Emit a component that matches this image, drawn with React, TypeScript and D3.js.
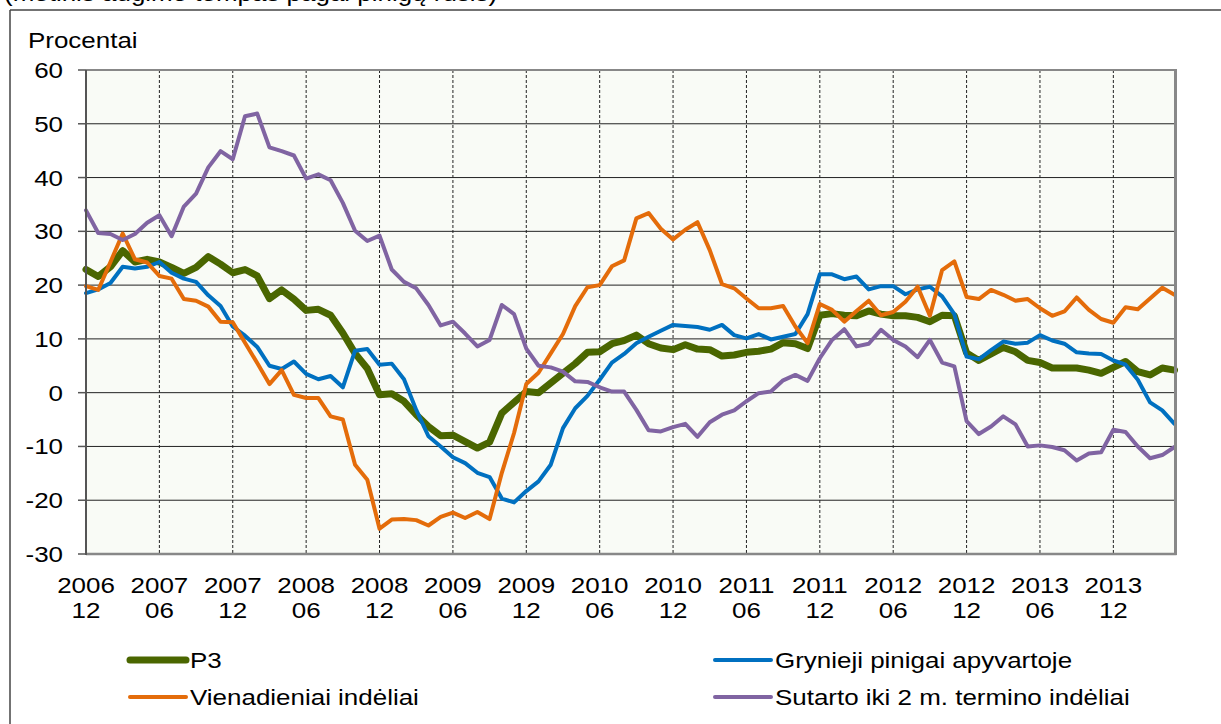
import React from "react";
import * as d3 from "d3";

// monthly observations, 2006-12 .. 2014-05
const months = d3.timeMonth.range(new Date(2006, 11, 1), new Date(2014, 6, 1)).slice(0, 90);

const p3 = [
  22.9, 21.6, 23.4, 26.4, 24.3, 24.8, 24.3, 23.3, 22.2, 23.3, 25.3, 23.9, 22.3, 22.9, 21.7, 17.5, 19.1, 17.4,
  15.3, 15.5, 14.4, 11.1, 7.3, 4.5, -0.4, -0.2, -1.6, -4.1, -6.3, -8.0, -7.9, -9.1, -10.3, -9.2, -3.8, -1.8,
  0.2, 0.0, 1.8, 3.6, 5.4, 7.5, 7.6, 9.1, 9.7, 10.7, 9.1, 8.3, 8.0, 8.9, 8.1, 8.0, 6.8, 7.0,
  7.5, 7.7, 8.1, 9.3, 9.1, 8.2, 14.4, 14.7, 14.4, 14.3, 15.2, 14.6, 14.3, 14.3, 14.0, 13.2, 14.4, 14.3,
  7.4, 6.0, 7.2, 8.4, 7.6, 6.0, 5.6, 4.6, 4.6, 4.6, 4.2, 3.6, 4.7, 5.8, 3.9, 3.3, 4.6, 4.2,
];

const grynieji = [
  18.5, 19.2, 20.4, 23.4, 23.1, 23.4, 24.3, 22.3, 21.2, 20.6, 18.1, 16.1, 12.3, 10.6, 8.5, 5.0, 4.4, 5.8,
  3.5, 2.5, 3.1, 1.0, 7.8, 8.1, 5.2, 5.4, 2.5, -3.2, -8.1, -10.0, -12.0, -13.1, -14.9, -15.7, -19.7, -20.4,
  -18.3, -16.5, -13.4, -6.6, -2.9, -0.6, 2.4, 5.6, 7.2, 9.2, 10.4, 11.5, 12.6, 12.4, 12.2, 11.7, 12.6, 10.7,
  10.1, 10.9, 9.9, 10.4, 10.9, 14.6, 22.0, 22.0, 21.1, 21.6, 19.2, 19.8, 19.8, 18.3, 19.2, 19.7, 17.9, 14.6,
  6.7, 6.2, 7.9, 9.5, 9.1, 9.3, 10.7, 9.7, 9.1, 7.5, 7.3, 7.2, 6.0, 5.2, 2.4, -1.8, -3.3, -5.8,
];

const vienadieniai = [
  19.8, 19.1, 24.3, 29.6, 24.8, 24.2, 21.7, 21.2, 17.4, 17.1, 16.0, 13.2, 13.1, 9.3, 5.5, 1.6, 4.2, -0.4,
  -1.0, -1.0, -4.4, -5.0, -13.4, -16.2, -25.3, -23.6, -23.5, -23.7, -24.7, -23.1, -22.3, -23.3, -22.2, -23.5, -14.9, -7.5,
  1.6, 3.7, 7.3, 10.9, 16.1, 19.6, 20.0, 23.5, 24.6, 32.4, 33.4, 30.5, 28.5, 30.3, 31.7, 26.5, 20.2, 19.4,
  17.5, 15.7, 15.7, 16.1, 12.3, 9.2, 16.5, 15.4, 13.2, 15.2, 17.1, 14.4, 15.0, 16.9, 19.7, 14.3, 22.8, 24.4,
  17.8, 17.4, 19.1, 18.2, 17.1, 17.4, 15.7, 14.3, 15.1, 17.7, 15.4, 13.7, 13.0, 15.9, 15.5, 17.5, 19.5, 18.2,
];

const sutarto = [
  33.9, 29.7, 29.5, 28.4, 29.5, 31.6, 33.0, 29.1, 34.6, 37.0, 41.9, 44.9, 43.4, 51.4, 51.9, 45.6, 44.9, 44.1,
  39.8, 40.6, 39.5, 35.3, 30.1, 28.2, 29.2, 22.9, 20.6, 19.4, 16.3, 12.5, 13.2, 11.0, 8.6, 9.8, 16.3, 14.6,
  8.2, 5.0, 4.7, 3.9, 2.1, 2.0, 1.0, 0.2, 0.2, -3.2, -7.0, -7.2, -6.4, -5.8, -8.2, -5.5, -4.1, -3.3,
  -1.6, -0.1, 0.2, 2.3, 3.3, 2.2, 6.4, 9.8, 11.8, 8.6, 9.1, 11.7, 9.8, 8.6, 6.6, 9.8, 5.6, 4.9,
  -5.3, -7.7, -6.3, -4.4, -5.9, -10.0, -9.8, -10.1, -10.7, -12.6, -11.3, -11.1, -6.9, -7.3, -10.0, -12.2, -11.6, -10.1,
];

const yTicks = [-30, -20, -10, 0, 10, 20, 30, 40, 50, 60];

const series = [
  { name: "P3", values: p3, color: "#4a6600", width: 7 },
  { name: "Grynieji pinigai apyvartoje", values: grynieji, color: "#0070c0", width: 4 },
  { name: "Vienadieniai indėliai", values: vienadieniai, color: "#e46c0a", width: 4 },
  { name: "Sutarto iki 2 m. termino indėliai", values: sutarto, color: "#8064a2", width: 4 },
];

const W = 1221;
const H = 724;
const left = 86;
const right = 1174.5;
const top = 70;
const bottom = 554;
const SX = 1.18;
const FONT = "'Liberation Sans', Arial, sans-serif";

const Label = ({ x, y, anchor = "start", children }: any) => (
  <text transform={`translate(${x},${y}) scale(${SX},1)`} textAnchor={anchor}>
    {children}
  </text>
);

export default function App() {
  const x = d3.scaleLinear().domain([0, months.length - 1]).range([left, right]);
  const y = d3.scaleLinear().domain([-30, 60]).range([bottom, top]);

  const line = d3
    .line<number>()
    .x((_, i) => x(i))
    .y((d) => y(d));

  const xTickIdx = d3.range(0, months.length, 6);
  const fmtY = d3.timeFormat("%Y");
  const fmtM = d3.timeFormat("%m");

  const legend = [
    { s: series[0], lx: 130, ly: 660 },
    { s: series[1], lx: 715, ly: 660 },
    { s: series[2], lx: 130, ly: 697 },
    { s: series[3], lx: 715, ly: 697 },
  ];

  return (
    <svg
      width={W}
      height={H}
      style={{ position: "absolute", left: 0, top: 0, background: "#fff" }}
      fontFamily={FONT}
      fontSize={22}
    >
      {/* caption of the slide, cut by the top edge as in the source */}
      <Label x={4} y={1}>(metinis augimo tempas pagal pinigų rūšis)</Label>

      {/* outer frame */}
      <line x1={10} x2={W} y1={10} y2={10} stroke="#444" strokeWidth={1.5} />
      <line x1={10} x2={10} y1={10} y2={H} stroke="#444" strokeWidth={1.5} />

      <Label x={28} y={48}>Procentai</Label>

      <rect x={left} y={top} width={right - left} height={bottom - top} fill="#f9fbf6" />

      {xTickIdx.slice(1).map((i) => (
        <line key={i} x1={x(i)} x2={x(i)} y1={top} y2={bottom} stroke="#222" strokeWidth={1} strokeDasharray="3,2" />
      ))}

      {yTicks.map((t) => (
        <g key={t}>
          {t > -30 && t < 60 && (
            <line x1={left} x2={right} y1={y(t)} y2={y(t)} stroke="#222" strokeWidth={1} />
          )}
          <line x1={78} x2={left} y1={y(t)} y2={y(t)} stroke="#555" strokeWidth={1.5} />
          <Label x={63} y={y(t) + 8} anchor="end">{t}</Label>
        </g>
      ))}

      {series.map((s) => (
        <path
          key={s.name}
          d={line(s.values) || ""}
          fill="none"
          stroke={s.color}
          strokeWidth={s.width}
          strokeLinejoin="round"
          strokeLinecap="round"
        />
      ))}

      {/* plot borders */}
      <line x1={left} x2={right} y1={top} y2={top} stroke="#888" strokeWidth={2} />
      <line x1={right + 1} x2={right + 1} y1={top - 1} y2={bottom + 1} stroke="#888" strokeWidth={3} />
      <line x1={left} x2={right + 2} y1={bottom} y2={bottom} stroke="#888" strokeWidth={2.5} />
      <line x1={left} x2={left} y1={top} y2={bottom + 1} stroke="#555" strokeWidth={2} />

      {xTickIdx.map((i) => (
        <g key={i}>
          <Label x={x(i)} y={593} anchor="middle">{fmtY(months[i])}</Label>
          <Label x={x(i)} y={618} anchor="middle">{fmtM(months[i])}</Label>
        </g>
      ))}

      {legend.map(({ s, lx, ly }) => (
        <g key={s.name}>
          <line x1={lx} x2={lx + 56} y1={ly} y2={ly} stroke={s.color} strokeWidth={s.width} strokeLinecap="round" />
          <Label x={lx + 60} y={ly + 8}>{s.name}</Label>
        </g>
      ))}
    </svg>
  );
}
